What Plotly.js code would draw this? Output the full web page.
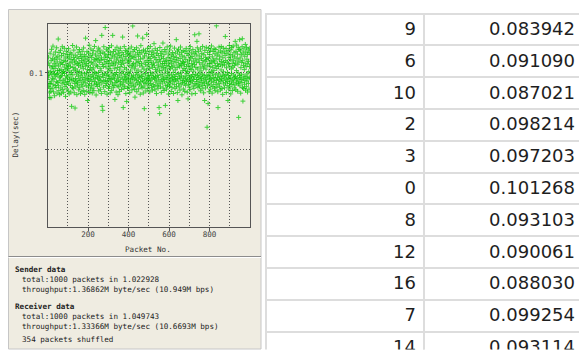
<!DOCTYPE html>
<html>
<head>
<meta charset="utf-8">
<script src="https://cdn.plot.ly/plotly-3.0.1.min.js"></script>
<style>
html,body{margin:0;padding:0;overflow:hidden;background:#ffffff;}
#chart{width:600px;height:350px;}
</style>
</head>
<body>
<div id="chart"></div>
<script>
// ---- data: delay (sec) of each received packet, in receive order ----
const delaySec = [
.1013,.0957,.0982,.0972,.1064,.1102,.0911,.0993,.0931,.0839,.0870,.1047,.0901,.1128,.0931,.1006,.0880,.0838,.1079,.0946,.1153,.0988,.1031,.0897,.1092,
.0965,.1041,.1174,.0923,.1008,.0876,.1117,.0959,.1062,.0994,.0851,.1085,.1029,.0917,.1136,.0978,.1050,.0904,.1098,.0942,.1163,.0989,.0868,.1071,.1015,
.0937,.1108,.0995,.1220,.0916,.1044,.0884,.1132,.0968,.1016,.0858,.1089,.0949,.1059,.1147,.0975,.0902,.1023,.0867,.1112,.0983,.1068,.0929,.1170,.1001,
.0891,.1055,.0953,.1126,.1009,.0873,.1081,.0938,.1160,.0996,.1037,.0912,.1103,.0961,.0847,.1074,.1019,.0925,.1141,.0980,.1051,.0895,.1119,.0944,.1028,
.0972,.1095,.0881,.1046,.1157,.0934,.1012,.0863,.1109,.0957,.1064,.0990,.1131,.0918,.1040,.0875,.1087,.0966,.1003,.0782,.1122,.0948,.1070,.0906,.1178,
.0987,.1035,.0897,.1099,.0954,.1148,.1017,.0870,.1083,.0931,.1056,.0771,.1115,.0963,.1026,.0909,.1072,.0945,.1168,.0992,.0858,.1103,.1011,.0936,.1060,
.0920,.1134,.0979,.1047,.0889,.1093,.0960,.1008,.1152,.0903,.1066,.0950,.1121,.0865,.1038,.0985,.1107,.0926,.1079,.1000,.0877,.1140,.0969,.1052,.0913,
.1097,.0941,.1027,.1162,.0886,.1070,.0958,.1118,.0994,.0860,.1084,.0935,.1043,.1226,.0973,.1106,.0916,.1061,.0999,.0879,.1138,.0952,.1021,.0820,.1090,
.0964,.1049,.0908,.1129,.0986,.1075,.1180,.0930,.1014,.0872,.1111,.0956,.1036,.0895,.1155,.0977,.1067,.0919,.1101,.0947,.1020,.0869,.1124,.0991,.1058,
.0901,.1145,.0971,.1032,.0884,.1088,.0943,.1172,.1005,.0926,.1077,.0962,.1116,.1210,.0997,.0856,.1050,.0928,.1094,.0982,.1137,.0911,.1042,.0967,.1086,
.0939,.1161,.1003,.0883,.1110,.0958,.1069,.0921,.1148,.0976,.1030,.0893,.1127,.0950,.1082,.1013,.0866,.1098,.1244,.0934,.0782,.1055,.0988,.0756,.1135,
.0970,.1041,.0907,.1170,.0944,.1087,.0995,.1123,.0878,.1064,.1295,.0952,.1109,.0917,.1038,.0981,.1154,.0930,.1074,.0861,.1100,.1007,.0948,.1142,.0987,
.1059,.0899,.1119,.0963,.1028,.1165,.0912,.1081,.0975,.1045,.0870,.1131,.0940,.1016,.1095,.0956,.1176,.0886,.1063,.0998,.1115,.0927,.1244,.0966,.1049,
.0903,.1139,.0984,.1071,.0918,.1104,.0961,.1027,.0827,.1150,.0990,.1058,.0937,.1121,.0875,.1084,.1002,.0946,.1167,.0915,.1035,.0973,.1097,.0858,.1128,
.0953,.1066,.0909,.1144,.0986,.1019,.0880,.1112,.0944,.1076,.1160,.0927,.1040,.0968,.1102,.0892,.1055,.0997,.1133,.0921,.1080,.1233,.0960,.1010,.0774,
.1118,.0939,.1062,.0900,.1171,.0978,.1034,.0913,.1090,.0957,.1146,.0989,.0865,.1107,.0948,.1024,.0814,.1137,.0971,.1069,.0898,.1125,.1000,.0932,.1083,
.0962,.1156,.0907,.1047,.0994,.1114,.0871,.1073,.0940,.1129,.1012,.0955,.1092,.0919,.1168,.0979,.1037,.0889,.1106,.0966,.1052,.1305,.0933,.1140,.0985,
.1061,.0910,.1099,.0958,.1026,.1152,.0893,.0842,.1117,.0972,.1044,.0921,.1085,.1003,.0949,.1163,.0877,.1066,.0991,.1131,.1240,.0935,.1018,.0960,.1108,
.0896,.1073,.0981,.1145,.0926,.1050,.0969,.1122,.0861,.1090,.0943,.1177,.1008,.0915,.1061,.0976,.1134,.0902,.1039,.0952,.1226,.0987,.1096,.0869,.1149,
.0940,.1025,.0908,.0767,.1110,.0964,.1070,.0929,.1142,.0996,.1053,.0882,.1126,.0957,.1018,.1250,.0934,.1081,.0973,.1160,.0898,.1045,.0950,.1103,.0985,
.1067,.0919,.1137,.0966,.1029,.0876,.1094,.0948,.1171,.1004,.0931,.1078,.0982,.1119,.0906,.1055,.0959,.1143,.0887,.1036,.0994,.1108,.0923,.1064,.0971,
.1130,.1190,.0912,.1046,.0961,.1099,.0890,.1157,.0977,.1021,.0940,.1085,.1006,.0865,.1124,.0953,.1069,.0917,.1146,.0983,.1032,.0899,.1113,.0968,.1051,
.0928,.0774,.1088,.1013,.0735,.1165,.0946,.1076,.0909,.1127,.0990,.1042,.0873,.1104,.0956,.1140,.1017,.0934,.1061,.0979,.1194,.0901,.1093,.0962,.1035,
.1118,.0885,.1059,.0945,.1152,.0998,.1074,.0788,.1026,.0920,.1136,.0970,.1082,.0894,.1048,.0957,.1169,.0916,.1011,.0981,.1101,.0937,.1064,.0862,.1123,
.0992,.1040,.0911,.1149,.0965,.1080,.0929,.1027,.1174,.0951,.1095,.0879,.1058,.0986,.1116,.0904,.1037,.0969,.1132,.0942,.1073,.1003,.0866,.1107,.0958,
.1045,.0925,.1161,.0976,.1087,.0897,.1019,.0954,.1128,.0988,.1066,.1216,.0913,.1100,.0947,.1034,.0871,.1142,.0963,.0820,.1079,.0995,.1153,.0931,.1052,
.0908,.1121,.0974,.1039,.0888,.1093,.0960,.1168,.0999,.1061,.0922,.1134,.0980,.1047,.0857,.1110,.0939,.1075,.1014,.0950,.1145,.0895,.1068,.0967,.1029,
.1103,.0933,.1056,.0880,.1138,.0978,.1017,.0919,.1088,.0961,.1159,.0944,.1041,.0996,.1126,.0874,.1071,.0955,.1009,.0831,.1114,.0926,.1050,.0984,.1147,
.0907,.1083,.0969,.1030,.0891,.1171,.0952,.1097,.0935,.1022,.1130,.0976,.1060,.0863,.1106,.0946,.1043,.0988,.1151,.0914,.1077,.0959,.1011,.0899,.1124,
.0973,.1054,.1248,.0930,.1092,.0866,.1137,.0990,.1035,.0921,.1070,.0957,.1116,.1205,.0943,.1163,.0983,.1025,.0905,.1085,.0968,.1141,.0927,.1254,.0998,
.1066,.0912,.1109,.0954,.1038,.0883,.1155,.0975,.1013,.0937,.1094,.0964,.1127,.0896,.1057,.0991,.1172,.0918,.1080,.0948,.1031,.0870,.1118,.0982,.1044,
.0929,.0820,.1146,.0967,.1072,.0902,.1101,.0958,.1024,.1166,.0940,.1087,.0986,.0646,.1050,.0915,.1133,.0974,.0800,.1093,.0933,.1160,.1002,.0877,.1061,
.0955,.1119,.0981,.1040,.0894,.1148,.0963,.1077,.0921,.1010,.1175,.0946,.1064,.0868,.1104,.0993,.1036,.0911,.1139,.0970,.1083,.0939,.1016,.1157,.0901,
.1071,.0960,.1124,.0884,.1047,.0987,.1152,.0925,.1092,.1306,.0950,.1028,.0906,.1115,.0969,.1060,.0877,.0774,.1134,.0994,.1041,.0932,.1168,.0956,.1085,
.0913,.1108,.0976,.1055,.0889,.1143,.0942,.1019,.1171,.0962,.1074,.0898,.1129,.0985,.1046,.0860,.1098,.0951,.1161,.1007,.0928,.1067,.0979,.1137,.0903,
.1052,.0967,.1114,.1237,.0936,.1081,.0990,.1158,.0872,.1033,.0958,.1127,.0917,.1070,.1003,.0944,.0820,.1145,.0982,.1059,.0895,.1101,.0964,.1178,.0931,
.1043,.0909,.1120,.0972,.1088,.0863,.1150,.0948,.1026,.0996,.1166,.0924,.1062,.0885,.1110,.0959,.1037,.1174,.0940,.1079,.0986,.1131,.0902,.1049,.0968,
.1103,.0921,.1205,.0977,.1064,.0890,.1140,.0953,.1015,.1181,.0934,.1091,.0963,.1122,.0880,.1056,.0999,.1163,.0929,.0710,.1076,.0945,.1152,.0983,.1216,
.0915,.1097,.0970,.1143,.0868,.1034,.0956,.1118,.0991,.1068,.0937,.1170,.1222,.0904,.1082,.0816,.1129,.0961,.1047,.0898,.1156,.0979,.1021,.0926,.1108,
.0952,.1063,.1185,.0887,.1136,.0974,.1040,.0910,.1166,.0947,.1089,.0993,.1120,.0875,.1058,.0965,.1149,.0931,.1075,.1008,.0894,.1131,.0968,.1041,.1160
];
// table (right): packet id and its delay
const tablePacket = [9, 6, 10, 2, 3, 0, 8, 12, 16, 7, 14];
const tableDelay  = [0.083942, 0.091090, 0.087021, 0.098214, 0.097203, 0.101268, 0.093103, 0.090061, 0.088030, 0.099254, 0.093114];
// axis ticks
const xTickVals = [200, 400, 600, 800];
const xMinorVals = [100, 300, 500, 700, 900];
const yTickVals = [0.05, 0.1];
const yTickText = ['', '0.1'];
// info panel text
const senderLines = ['total:1000 packets in 1.022928', 'throughput:1.36862M byte/sec (10.949M bps)'];
const receiverLines = ['total:1000 packets in 1.049743', 'throughput:1.33366M byte/sec (10.6693M bps)', '354 packets shuffled'];

// ---- layout helpers (pixel -> paper) ----
const W = 600, H = 350;
const px = x => x / W;
const py = y => 1 - y / H;
const BEIGE = '#efece1';
const MONO = 'DejaVu Sans Mono, monospace';
const FS = 7.6;

const packetNo = delaySec.map((_, i) => i);

const scatter = {
  type: 'scatter', mode: 'markers',
  x: packetNo, y: delaySec,
  xaxis: 'x', yaxis: 'y',
  marker: {symbol: 'cross-thin', size: 3.5, color: '#00c800', opacity: 0.75,
           line: {color: '#00c800', width: 1}},
  hoverinfo: 'skip', showlegend: false
};

const cellStyle = {
  align: 'right',
  height: 31.8,
  fill: {color: '#ffffff'},
  line: {color: '#dddddd', width: 2},
  font: {family: 'DejaVu Sans, sans-serif', size: 18, color: '#1e1e1e'},
  format: ['', '.6f']
};
const table = {
  type: 'table',
  domain: {x: [px(266), px(583)], y: [0, py(13.5)]},
  columnwidth: [158, 159],
  header: Object.assign({values: [[tablePacket[0]], [tableDelay[0]]]}, cellStyle),
  cells: Object.assign({values: [tablePacket.slice(1), tableDelay.slice(1)]}, cellStyle)
};

const gridDash = '1px,2px';
const layout = {
  width: W, height: H,
  margin: {l: 0, r: 0, t: 0, b: 0},
  paper_bgcolor: '#ffffff',
  plot_bgcolor: BEIGE,
  showlegend: false,
  xaxis: {
    domain: [px(47.5), px(250)], range: [0, 1000],
    tickmode: 'array', tickvals: xTickVals,
    ticks: 'outside', ticklen: 3, tickcolor: '#555555',
    ticklabelstandoff: -3,
    showgrid: true, gridcolor: '#555555', gridwidth: 1, griddash: gridDash,
    minor: {tickmode: 'array', tickvals: xMinorVals, showgrid: true, gridcolor: '#555555', gridwidth: 1, griddash: gridDash, ticks: ''},
    showline: true, mirror: true, linecolor: '#555555', linewidth: 1,
    zeroline: false, fixedrange: true,
    tickfont: {family: MONO, size: FS, color: '#444444'}
  },
  yaxis: {
    domain: [py(226.5), py(24.3)], range: [0, 0.1316],
    tickmode: 'array', tickvals: yTickVals, ticktext: yTickText,
    ticks: 'outside', ticklen: 2, tickcolor: '#555555',
    showgrid: true, gridcolor: '#555555', gridwidth: 1, griddash: gridDash,
    showline: true, mirror: true, linecolor: '#555555', linewidth: 1,
    zeroline: false, fixedrange: true,
    tickfont: {family: MONO, size: FS, color: '#444444'}
  },
  shapes: [
    {type: 'rect', xref: 'paper', yref: 'paper', x0: px(8.5), x1: px(261), y0: py(349), y1: py(9.5),
     fillcolor: BEIGE, line: {color: '#c6c6c6', width: 1}, layer: 'below'},
    {type: 'line', xref: 'paper', yref: 'paper', x0: px(8.5), x1: px(261), y0: py(256.5), y1: py(256.5),
     line: {color: '#8c8c8c', width: 1}, layer: 'below'},
    {type: 'line', xref: 'paper', yref: 'paper', x0: px(8.5), x1: px(261), y0: py(257.5), y1: py(257.5),
     line: {color: '#ffffff', width: 1}, layer: 'below'}
  ],
  annotations: []
};

const ann = (text, x, y, opts) => Object.assign({
  text: text, xref: 'paper', yref: 'paper', x: px(x), y: py(y),
  xanchor: 'left', yanchor: 'middle', showarrow: false, borderpad: 0,
  font: {family: MONO, size: FS, color: '#222222'}
}, opts || {});

layout.annotations.push(ann('Packet No.', 147.5, 249, {xanchor: 'center', font: {family: MONO, size: FS, color: '#333333'}}));
layout.annotations.push(ann('Delay(sec)', 15, 134.5, {xanchor: 'center', textangle: -90, font: {family: MONO, size: FS, color: '#333333'}}));
layout.annotations.push(ann('<b>Sender data</b>', 13.5, 269));
senderLines.forEach((t, i) => layout.annotations.push(ann(t, 20.5, 279 + i * 10)));
layout.annotations.push(ann('<b>Receiver data</b>', 13.5, 306.7));
receiverLines.forEach((t, i) => layout.annotations.push(ann(t, 20.5, 316.7 + i * 10 + (i === 2 ? 2.6 : 0))));

Plotly.newPlot('chart', [scatter, table], layout, {staticPlot: true, displayModeBar: false});
</script>
</body>
</html>
